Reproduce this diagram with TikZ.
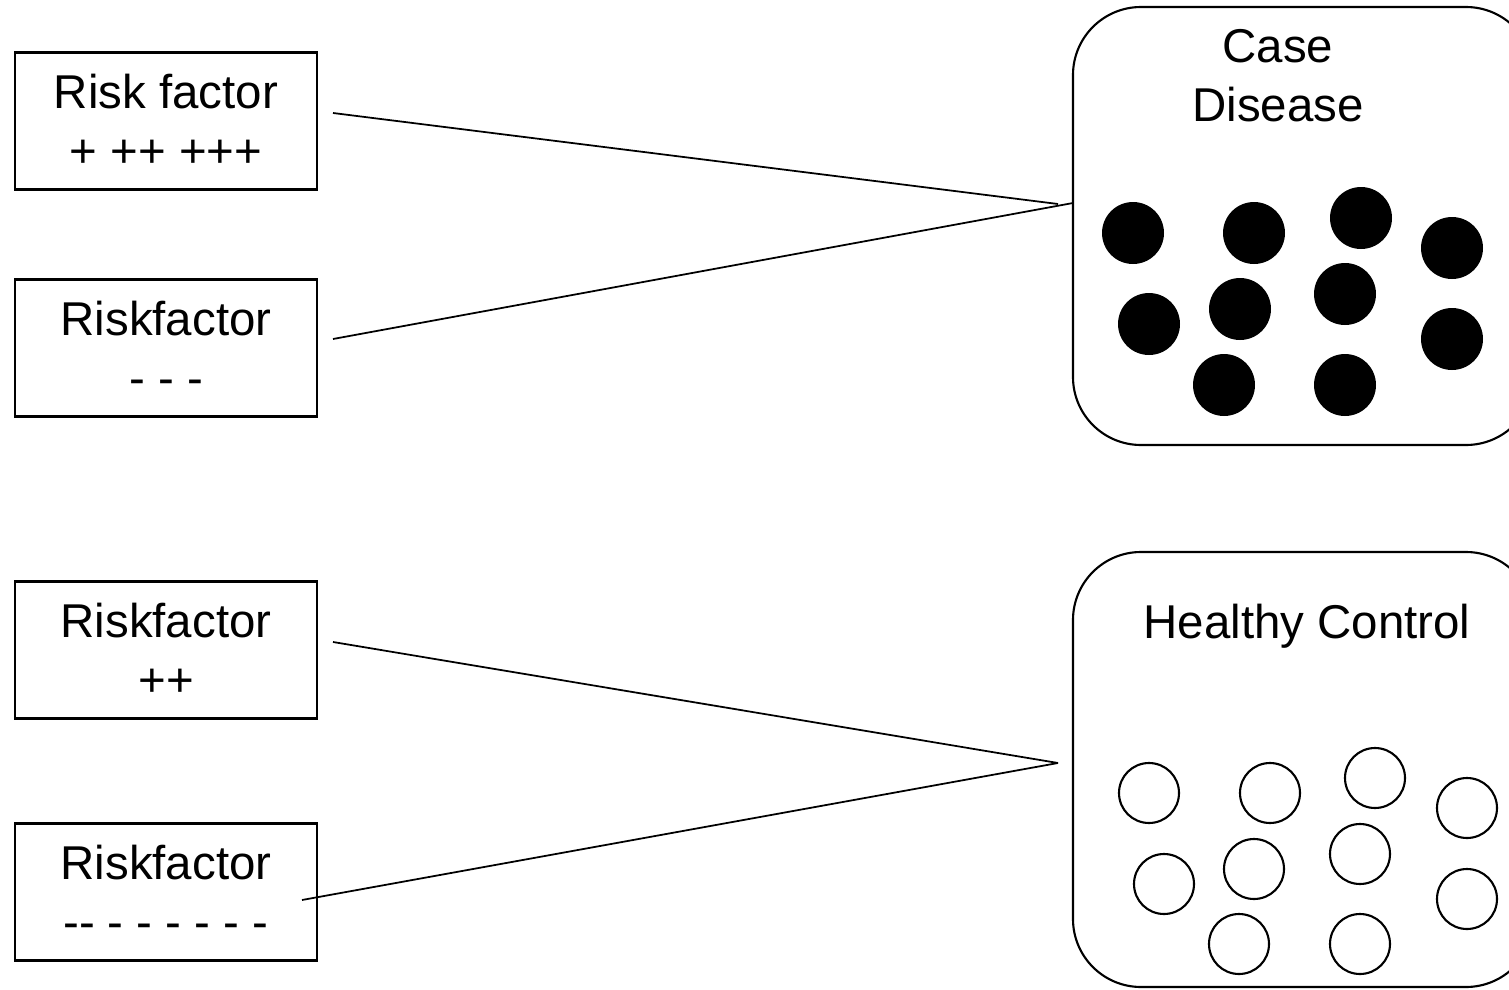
\documentclass[tikz,border=0pt]{standalone}
\usepackage{fontspec}
\setmainfont{Liberation Sans}
\usepackage{tikz}
\usetikzlibrary{shapes, positioning, calc}

\begin{document}
\begin{tikzpicture}[
    riskbox/.style={rectangle, draw, line width=0.6pt, minimum width=3.02cm, minimum height=1.37cm, inner sep=0pt, align=center, font=\fontsize{13.5}{16.8}\selectfont},
    groupbox/.style={rectangle, draw, rounded corners=0.68cm, line width=0.6pt, minimum width=4.61cm, inner sep=0pt},
    title/.style={inner sep=0pt, align=center, font=\fontsize{13.5}{16.8}\selectfont},
    dot/.style={circle, fill=black, inner sep=0pt, minimum size=0.62cm},
    ring/.style={circle, draw, line width=0.6pt, fill=white, inner sep=0pt, minimum size=0.60cm}
]
    \useasboundingbox (0,0) rectangle (15.09,-9.90);
    \clip (0,0) rectangle (15.09,-9.90);

    % Risk factor boxes
    \node[riskbox] (rf1) at (1.66, -1.21) {Risk factor\\+ ++ +++};
    \node[riskbox] (rf2) at (1.66, -3.48) {Riskfactor\\- - -};
    \node[riskbox] (rf3) at (1.66, -6.50) {Riskfactor\\++};
    \node[riskbox] (rf4) at (1.66, -8.92) {Riskfactor\\-{}- - - - - - -};

    % Groups
    \node[groupbox, minimum height=4.38cm] (case) at (13.035, -2.26) {};
    \node[groupbox, minimum height=4.35cm] (ctrl) at (13.035, -7.695) {};
    \node[title] (casetitle) at (12.78, -0.76) {Case\\Disease};
    \node[title, anchor=base] (ctrltitle) at (13.07, -6.38) {Healthy Control};

    % Cases (filled)
    \node[dot] (d1) at (11.33, -2.33) {};
    \node[dot] (d2) at (12.54, -2.33) {};
    \node[dot] (d3) at (13.61, -2.18) {};
    \node[dot] (d4) at (14.52, -2.48) {};
    \node[dot] (d5) at (11.49, -3.24) {};
    \node[dot] (d6) at (12.40, -3.09) {};
    \node[dot] (d7) at (13.45, -2.94) {};
    \node[dot] (d8) at (14.52, -3.39) {};
    \node[dot] (d9) at (12.24, -3.85) {};
    \node[dot] (d10) at (13.45, -3.85) {};

    % Controls (empty)
    \node[ring] (h1) at (11.49, -7.93) {};
    \node[ring] (h2) at (12.70, -7.93) {};
    \node[ring] (h3) at (13.75, -7.78) {};
    \node[ring] (h4) at (14.67, -8.08) {};
    \node[ring] (h5) at (11.64, -8.84) {};
    \node[ring] (h6) at (12.54, -8.69) {};
    \node[ring] (h7) at (13.60, -8.54) {};
    \node[ring] (h8) at (14.67, -8.99) {};
    \node[ring] (h9) at (12.39, -9.44) {};
    \node[ring] (h10) at (13.60, -9.44) {};

    % Line ends
    \coordinate (s1) at (3.33, -1.13);
    \coordinate (s2) at (3.33, -3.39);
    \coordinate (s3) at (3.33, -6.42);
    \coordinate (s4) at (3.02, -9.00);
    \coordinate (e1) at (10.58, -2.04);
    \coordinate (e2) at (10.73, -2.03);
    \coordinate (e3) at (10.58, -7.63);

    % Lines
    \draw[line width=0.5pt] (s1) -- (e1);
    \draw[line width=0.5pt] (s2) -- (e2);
    \draw[line width=0.5pt] (s3) -- (e3);
    \draw[line width=0.5pt] (s4) -- (e3);
\end{tikzpicture}
\end{document}
